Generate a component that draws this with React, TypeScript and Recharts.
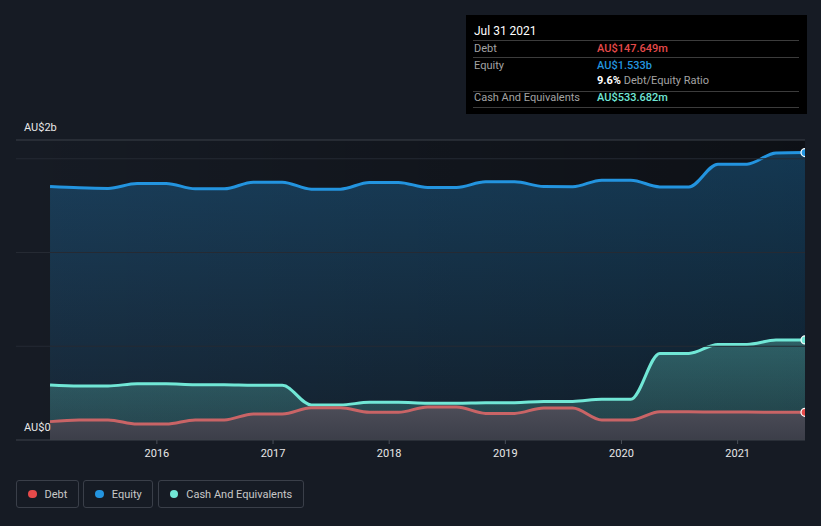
import React from 'react';
import { ComposedChart, Area, XAxis, YAxis, ReferenceLine, ReferenceArea } from 'recharts';

// decimal years (quarterly points, Jan 2015 – Jul 2021)
const dates = [2015.08, 2015.33, 2015.58, 2015.83, 2016.08, 2016.33, 2016.58, 2016.83, 2017.08, 2017.33, 2017.58, 2017.83, 2018.08, 2018.33, 2018.58, 2018.83, 2019.08, 2019.33, 2019.58, 2019.83, 2020.08, 2020.33, 2020.58, 2020.83, 2021.08, 2021.33, 2021.58];
// values in AU$ billions
const equity = [1.352, 1.345, 1.342, 1.368, 1.368, 1.340, 1.340, 1.375, 1.375, 1.338, 1.338, 1.374, 1.374, 1.347, 1.347, 1.377, 1.377, 1.352, 1.351, 1.386, 1.386, 1.350, 1.350, 1.471, 1.471, 1.531, 1.533];
const cash = [0.293, 0.288, 0.288, 0.300, 0.300, 0.295, 0.295, 0.292, 0.292, 0.187, 0.187, 0.201, 0.201, 0.196, 0.196, 0.199, 0.199, 0.206, 0.206, 0.217, 0.217, 0.462, 0.462, 0.510, 0.510, 0.533, 0.5337];
const debt = [0.098, 0.107, 0.107, 0.085, 0.085, 0.107, 0.107, 0.139, 0.139, 0.172, 0.172, 0.148, 0.148, 0.176, 0.176, 0.142, 0.142, 0.171, 0.171, 0.107, 0.107, 0.151, 0.151, 0.149, 0.149, 0.148, 0.1476];

const yearTicks = [2016, 2017, 2018, 2019, 2020, 2021];
const yTicks = [0, 1.6];
const yTickLabels = ['AU$0', 'AU$2b'];
const gridValues = [0.5, 1, 1.5];

const seriesNames = ['Debt', 'Equity', 'Cash And Equivalents'];
const seriesColors = ['#e64a4a', '#2394df', '#71e7d6'];

const tipDate = 'Jul 31 2021';
const tipDebt = 'AU$147.649m';
const tipEquity = 'AU$1.533b';
const tipRatio = '9.6%';
const tipCash = 'AU$533.682m';

const data = dates.map((d, i) => ({ t: d, equity: equity[i], cash: cash[i], debt: debt[i] }));

const X_MIN = 2014.787;
const X_MAX = 2021.58;
const FONT = 'Roboto, "Noto Sans", sans-serif';

const yLabel = (text: string) => (props: any) => {
  const vb = props.viewBox || {};
  return (
    <text x={24} y={(vb.y ?? 0) - 12} fill="#e8e8e8" fontSize={11} fontFamily={FONT} dominantBaseline="middle">
      {text}
    </text>
  );
};

const lastDot = (color: string) => (props: any) => {
  const { cx, cy, index } = props;
  if (index !== data.length - 1) return <g key={index} />;
  return <circle key={index} cx={cx} cy={cy} r={4} fill={color} stroke="#ffffff" strokeWidth={1.2} />;
};

export default function App() {
  return (
    <div style={{ position: 'absolute', left: 0, top: 0, width: 821, height: 526, background: '#161b24', fontFamily: FONT, overflow: 'hidden' }}>
      <ComposedChart width={821} height={526} data={data} margin={{ top: 140, right: 16, bottom: 60, left: 16 }}>
        <defs>
          <linearGradient id="bgGrad" x1="0" y1="0" x2="1" y2="0">
            <stop offset="0%" stopColor="#000000" stopOpacity={0} />
            <stop offset="100%" stopColor="#000000" stopOpacity={0.4} />
          </linearGradient>
          <linearGradient id="eqGrad" x1="0" y1="0" x2="0" y2="1">
            <stop offset="0%" stopColor="#2394df" stopOpacity={0.3} />
            <stop offset="100%" stopColor="#2394df" stopOpacity={0.08} />
          </linearGradient>
          <linearGradient id="cashGrad" x1="0" y1="0" x2="0" y2="1">
            <stop offset="0%" stopColor="#71e7d6" stopOpacity={0.3} />
            <stop offset="100%" stopColor="#71e7d6" stopOpacity={0.16} />
          </linearGradient>
          <linearGradient id="debtGrad" x1="0" y1="0" x2="0" y2="1">
            <stop offset="0%" stopColor="#4c4d58" stopOpacity={1} />
            <stop offset="100%" stopColor="#3c3e49" stopOpacity={1} />
          </linearGradient>
        </defs>
        <XAxis
          dataKey="t"
          type="number"
          domain={[X_MIN, X_MAX]}
          allowDataOverflow
          ticks={yearTicks}
          height={26}
          tick={{ fill: '#e8e8e8', fontSize: 11, fontFamily: FONT }}
          tickLine={{ stroke: '#4a4f58' }}
          tickSize={4}
          tickMargin={5}
          axisLine={{ stroke: '#3d424a' }}
        />
        <YAxis type="number" domain={[0, 1.6]} ticks={yTicks} hide />
        <ReferenceArea x1={X_MIN} x2={X_MAX} y1={0} y2={1.6} fill="url(#bgGrad)" fillOpacity={1} stroke="none" ifOverflow="hidden" />
        {gridValues.map((v) => (
          <ReferenceLine key={v} y={v} stroke="#252a33" strokeWidth={1} />
        ))}
        <ReferenceLine y={yTicks[1]} stroke="#3b4048" strokeWidth={1} label={yLabel(yTickLabels[1])} />
        <ReferenceLine y={yTicks[0]} stroke="none" label={yLabel(yTickLabels[0])} />
        <Area type="monotone" dataKey="equity" stroke={seriesColors[1]} strokeWidth={3} fill="url(#eqGrad)" fillOpacity={1} isAnimationActive={false} dot={lastDot(seriesColors[1])} activeDot={false} />
        <Area type="monotone" dataKey="cash" stroke={seriesColors[2]} strokeWidth={3} fill="url(#cashGrad)" fillOpacity={1} isAnimationActive={false} dot={lastDot(seriesColors[2])} activeDot={false} />
        <Area type="monotone" dataKey="debt" stroke="#c96466" strokeWidth={3} fill="url(#debtGrad)" fillOpacity={1} isAnimationActive={false} dot={lastDot(seriesColors[0])} activeDot={false} />
      </ComposedChart>

      {/* tooltip panel */}
      <div style={{ position: 'absolute', left: 466, top: 15, width: 341, height: 99, background: '#000000', fontSize: 11 }}>
        <div style={{ position: 'absolute', left: 8, top: 8, lineHeight: '16px', color: '#ffffff', fontSize: 12 }}>{tipDate}</div>
        {[25, 42, 75.5, 92].map((t) => (
          <div key={t} style={{ position: 'absolute', left: 7, top: t, width: 326, height: 1, background: '#3c3c3c' }} />
        ))}
        <div style={{ position: 'absolute', left: 8, top: 25.5, lineHeight: '16px', color: '#a3a3a3' }}>{seriesNames[0]}</div>
        <div style={{ position: 'absolute', left: 131, top: 25.5, lineHeight: '16px', color: seriesColors[0], fontWeight: 500 }}>{tipDebt}</div>
        <div style={{ position: 'absolute', left: 8, top: 42.7, lineHeight: '16px', color: '#a3a3a3' }}>{seriesNames[1]}</div>
        <div style={{ position: 'absolute', left: 131, top: 42.7, lineHeight: '16px', color: seriesColors[1], fontWeight: 500 }}>{tipEquity}</div>
        <div style={{ position: 'absolute', left: 131, top: 58, lineHeight: '16px', color: '#a3a3a3' }}>
          <span style={{ color: '#ffffff', fontWeight: 700 }}>{tipRatio}</span> Debt/Equity Ratio
        </div>
        <div style={{ position: 'absolute', left: 8, top: 74.7, lineHeight: '16px', color: '#a3a3a3' }}>{seriesNames[2]}</div>
        <div style={{ position: 'absolute', left: 131, top: 74.7, lineHeight: '16px', color: seriesColors[2], fontWeight: 500 }}>{tipCash}</div>
      </div>

      {/* legend */}
      <div style={{ position: 'absolute', left: 16, top: 480, display: 'flex', gap: 4.5 }}>
        {seriesNames.map((n, i) => (
          <div key={n} style={{ height: 26, border: '1px solid #3a3f49', borderRadius: 3, display: 'flex', alignItems: 'center', padding: '0 10.5px 0 11px', gap: 8, color: '#c8c8c8', fontSize: 11 }}>
            <span style={{ width: 8.5, height: 8.5, borderRadius: 5, background: seriesColors[i], display: 'inline-block', flexShrink: 0 }} />
            <span>{n}</span>
          </div>
        ))}
      </div>
    </div>
  );
}
